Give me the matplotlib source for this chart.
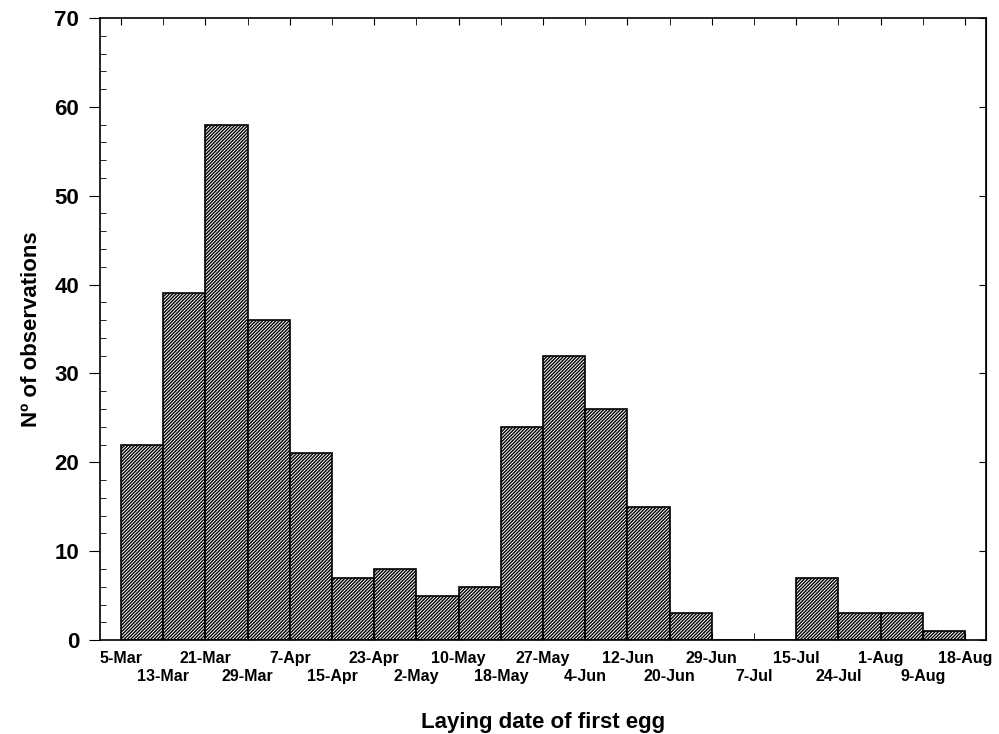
import numpy as np
import matplotlib
matplotlib.use("Agg")
import matplotlib.pyplot as plt
from matplotlib.ticker import MultipleLocator

plt.rcParams["font.family"] = ["Liberation Sans", "DejaVu Sans"]
plt.rcParams["font.weight"] = "bold"
plt.rcParams["hatch.linewidth"] = 1.0

# bin edge labels (dates of first egg) and counts per bin
edge_labels = [
    "5-Mar", "13-Mar", "21-Mar", "29-Mar", "7-Apr", "15-Apr", "23-Apr",
    "2-May", "10-May", "18-May", "27-May", "4-Jun", "12-Jun", "20-Jun",
    "29-Jun", "7-Jul", "15-Jul", "24-Jul", "1-Aug", "9-Aug", "18-Aug",
]
counts = [22, 39, 58, 36, 21, 7, 8, 5, 6, 24, 32, 26, 15, 3, 0, 0, 7, 3, 3, 1]

fig = plt.figure(figsize=(9.99, 7.34), dpi=100)
ax = fig.add_axes([0.1001, 0.128, 0.887, 0.8475])

edges = np.arange(len(edge_labels))
ax.bar(edges[:-1], counts, width=1.0, align="edge", color="white",
       edgecolor="black", linewidth=1.2, hatch="/" * 10)

ax.set_xlim(-0.5, len(counts) + 0.5)
ax.set_ylim(0, 70)

# two staggered rows of date labels: even edges on top row, odd below
ax.set_xticks(edges[::2])
ax.set_xticklabels(edge_labels[::2], fontsize=11.5, fontweight="bold")
ax.set_xticks(edges[1::2], minor=True)
ax.set_xticklabels(edge_labels[1::2], minor=True, fontsize=11.5,
                   fontweight="bold")
ax.tick_params(axis="x", which="major", direction="in", length=5, top=True,
               pad=8)
ax.tick_params(axis="x", which="minor", direction="in", length=5, top=True,
               pad=21)

ax.yaxis.set_major_locator(MultipleLocator(10))
ax.yaxis.set_minor_locator(MultipleLocator(2))
ax.tick_params(axis="y", which="major", direction="out", length=8,
               labelsize=16, right=False, pad=7)
ax.tick_params(axis="y", which="minor", direction="in", length=4)
for lab in ax.get_yticklabels():
    lab.set_fontweight("bold")

# short inward ticks on right spine at major values
ax2 = ax.secondary_yaxis("right")
ax2.yaxis.set_major_locator(MultipleLocator(10))
ax2.tick_params(direction="in", length=5, labelright=False)

for s in ax.spines.values():
    s.set_linewidth(1.2)

ax.set_xlabel("Laying date of first egg", fontsize=16, fontweight="bold",
              labelpad=20)
ax.set_ylabel("N\u00ba of observations", fontsize=16, fontweight="bold",
              labelpad=9)

fig.savefig("out.png", dpi=100)
